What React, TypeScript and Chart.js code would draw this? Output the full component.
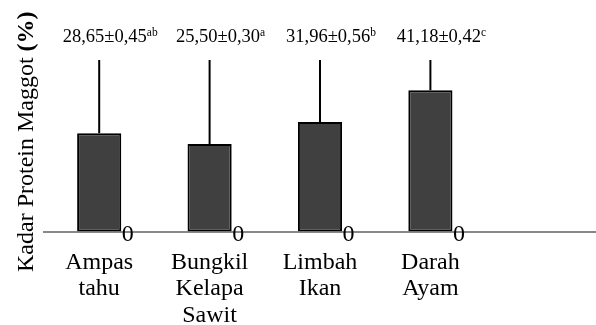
import React, { useEffect, useRef } from 'react';
import { Chart, registerables } from 'chart.js';

Chart.register(...registerables);

// ---- data ----
const categories: (string | string[])[] = [
  ['Ampas', 'tahu'],
  ['Bungkil', 'Kelapa', 'Sawit'],
  ['Limbah', 'Ikan'],
  ['Darah', 'Ayam'],
  '',
];
const proteinValues: (number | null)[] = [28.65, 25.5, 31.96, 41.18, null];
const errorBarTops: (number | null)[] = [50, 50, 50, 50, null];
const valueLabels = ['28,65±0,45', '25,50±0,30', '31,96±0,56', '41,18±0,42'];
const superscripts = ['ab', 'a', 'b', 'c'];
const zeroLabels = ['0', '0', '0', '0'];
const yAxisTitle = 'Kadar Protein Maggot ';
const yAxisTitleBold = '(%)';
const yMin = 0;
const yMax = 50;

const FONT = '"Liberation Serif", "Times New Roman", serif';

const annotationPlugin = {
  id: 'annotations',
  afterDatasetsDraw(chart: any) {
    const ctx = chart.ctx as CanvasRenderingContext2D;
    const meta = chart.getDatasetMeta(0);
    const yScale = chart.scales.y;
    const xScale = chart.scales.x;
    ctx.save();
    meta.data.forEach((bar: any, i: number) => {
      const top = errorBarTops[i];
      if (top == null || proteinValues[i] == null) return;
      const x = bar.x;
      const yTop = yScale.getPixelForValue(top);
      // error bar
      ctx.strokeStyle = '#000';
      ctx.lineWidth = 2;
      ctx.beginPath();
      ctx.moveTo(x, bar.y);
      ctx.lineTo(x, yTop);
      ctx.stroke();

      // value label with superscript
      ctx.fillStyle = '#000';
      ctx.textBaseline = 'alphabetic';
      ctx.textAlign = 'left';
      ctx.font = `18.5px ${FONT}`;
      const mainW = ctx.measureText(valueLabels[i]).width;
      ctx.font = `11.5px ${FONT}`;
      const supW = ctx.measureText(superscripts[i]).width;
      const total = mainW + supW;
      const startX = x + 11 - total / 2;
      const baseY = yTop - 18;
      ctx.font = `18.5px ${FONT}`;
      ctx.fillText(valueLabels[i], startX, baseY);
      ctx.font = `11.5px ${FONT}`;
      ctx.fillText(superscripts[i], startX + mainW, baseY - 6);

      // zero label
      ctx.font = `24px ${FONT}`;
      ctx.textBaseline = 'middle';
      ctx.fillText(zeroLabels[i], x + bar.width / 2 + 0.5, xScale.top + 3);
    });

    // y-axis title (rotated, mixed weight)
    ctx.translate(33, 272);
    ctx.rotate(-Math.PI / 2);
    ctx.textBaseline = 'alphabetic';
    ctx.textAlign = 'left';
    ctx.font = `24px ${FONT}`;
    ctx.fillText(yAxisTitle, 0, 0);
    const w = ctx.measureText(yAxisTitle).width;
    ctx.font = `bold 24px ${FONT}`;
    ctx.fillText(yAxisTitleBold, w, 0);
    ctx.restore();
  },
};

export default function App() {
  const canvasRef = useRef<HTMLCanvasElement | null>(null);

  useEffect(() => {
    if (!canvasRef.current) return;
    const chart = new Chart(canvasRef.current, {
      type: 'bar',
      data: {
        labels: categories,
        datasets: [
          {
            data: proteinValues,
            backgroundColor: '#404040',
            borderColor: '#000000',
            borderWidth: 2,
            borderSkipped: false,
            barPercentage: 0.4,
            categoryPercentage: 1.0,
          },
        ],
      },
      options: {
        animation: false,
        responsive: false,
        devicePixelRatio: 1,
        layout: { padding: { top: 60, left: 44, right: 0, bottom: 0 } },
        plugins: {
          legend: { display: false },
          tooltip: { enabled: false },
          title: { display: false },
        },
        scales: {
          x: {
            type: 'category',
            grid: { display: false, drawTicks: false },
            border: { display: true, color: '#888888', width: 2 },
            ticks: {
              color: '#000',
              font: { family: FONT, size: 24, lineHeight: 1.1 },
              padding: 18,
              maxRotation: 0,
              minRotation: 0,
              autoSkip: false,
            },
            afterFit: (scale: any) => {
              scale.height = 93.5;
            },
          },
          y: {
            display: false,
            min: yMin,
            max: yMax,
          },
        },
      },
      plugins: [annotationPlugin],
    });
    return () => chart.destroy();
  }, []);

  return (
    <div style={{ position: 'fixed', left: 0, top: 0, width: 596, height: 325, background: '#fff' }}>
      <canvas ref={canvasRef} width={596} height={325} />
    </div>
  );
}
